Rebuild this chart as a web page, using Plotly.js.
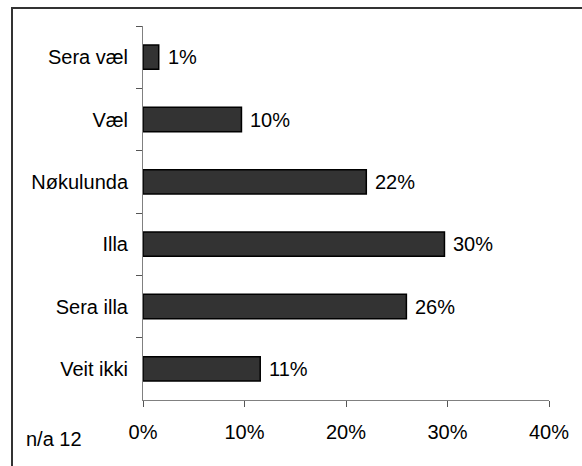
<!DOCTYPE html>
<html>
<head>
<meta charset="utf-8">
<script src="https://cdn.plot.ly/plotly-3.0.1.min.js"></script>
<style>html,body{margin:0;padding:0;background:#fff;overflow:hidden;}#chart{width:582px;height:466px;}</style>
</head>
<body>
<div id="chart"></div>
<script>
var categories = ["Sera væl", "Væl", "Nøkulunda", "Illa", "Sera illa", "Veit ikki"];
var values = [1.55, 9.7, 22.0, 29.7, 25.95, 11.55];
var valueLabels = ["1%", "10%", "22%", "30%", "26%", "11%"];
var xTickVals = [0, 10, 20, 30, 40];
var xTickText = ["0%", "10%", "20%", "30%", "40%"];
var noteText = "n/a 12";

var font = {family: "Liberation Sans, Arial, sans-serif", size: 20, color: "#000"};

var trace = {
  type: "bar",
  orientation: "h",
  x: values,
  y: categories,
  marker: {color: "#333333", line: {color: "#000", width: 1.5}},
  hoverinfo: "none"
};

function px2x(p) { return (p - 143) / 406; }
function py2y(p) { return (400 - p) / 374; }

var annotations = categories.map(function(c, i) {
  return {x: values[i], y: c, xref: "x", yref: "y", text: valueLabels[i],
    showarrow: false, xanchor: "left", yanchor: "middle", xshift: 7, font: font};
});
annotations.push({x: px2x(24), y: py2y(439), xref: "paper", yref: "paper", text: noteText,
  showarrow: false, font: font, xanchor: "left", yanchor: "middle"});

var layout = {
  width: 582, height: 466,
  margin: {l: 143, r: 33, t: 26, b: 66, pad: 0},
  paper_bgcolor: "#fff", plot_bgcolor: "#fff",
  font: font,
  showlegend: false,
  bargap: 0.61,
  xaxis: {
    range: [0, 40], tickvals: xTickVals, ticktext: xTickText,
    showgrid: false, zeroline: false, showline: true, linecolor: "#808080", linewidth: 1,
    ticks: "outside", ticklen: 6, tickcolor: "#555", tickwidth: 1, tickfont: font,
    ticklabelstandoff: 8, fixedrange: true
  },
  yaxis: {
    type: "category", autorange: "reversed",
    showgrid: false, zeroline: false, showline: true, linecolor: "#808080", linewidth: 1,
    ticks: "outside", tickson: "boundaries", ticklen: 6, tickcolor: "#555", tickwidth: 1,
    tickfont: font, ticklabelstandoff: 10, fixedrange: true
  },
  annotations: annotations,
  shapes: [
    {type: "line", xref: "paper", yref: "paper", x0: px2x(12), x1: px2x(12), y0: py2y(7), y1: py2y(480),
      line: {color: "#333", width: 2}, layer: "below"},
    {type: "line", xref: "paper", yref: "paper", x0: px2x(11), x1: px2x(600), y0: py2y(8), y1: py2y(8),
      line: {color: "#333", width: 2}, layer: "below"}
  ]
};

Plotly.newPlot("chart", [trace], layout, {displayModeBar: false, staticPlot: true});
</script>
</body>
</html>
